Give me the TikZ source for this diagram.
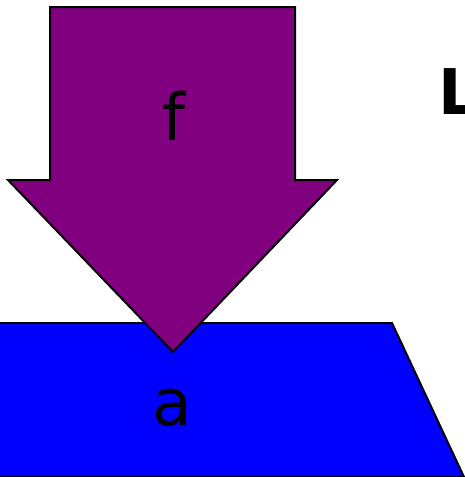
\documentclass[tikz,border=0pt]{standalone}
\usepackage{fontspec}
\setmainfont{DejaVu Sans}
\definecolor{arrowpurple}{HTML}{800080}
\definecolor{shapeblue}{HTML}{0000FF}
\begin{document}
\begin{tikzpicture}[x=1pt,y=-1pt,
  outline/.style={draw=black,line width=2pt,line join=miter},
  lbl/.style={inner sep=0pt,anchor=base,font=\fontsize{65}{78}\selectfont}]
\useasboundingbox (0,0) rectangle (465,477);
\fill[white] (0,0) rectangle (465,477);
% trapezoid
\path[outline,fill=shapeblue] (-20,323) -- (392,323) -- (464,477) -- (-20,477) -- cycle;
% arrow
\path[outline,fill=arrowpurple] (50,7) -- (295,7) -- (295,180) -- (337,180) -- (173,352) -- (8,180) -- (50,180) -- cycle;
\node[lbl] (f) at (174,140) {f};
\node[lbl] (a) at (172,425) {a};
\node[lbl,anchor=base west,font=\fontsize{63}{76}\selectfont\bfseries] (L) at (438,114) {L};
\end{tikzpicture}
\end{document}
